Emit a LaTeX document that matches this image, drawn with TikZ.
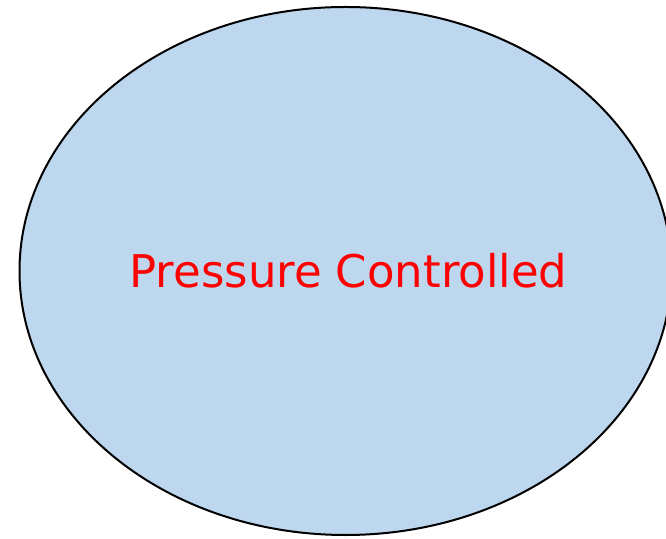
\documentclass[tikz,border=0pt]{standalone}
\usepackage{fontspec}
\newfontfamily\labelfont{DejaVu Sans}
\definecolor{ovalfill}{RGB}{189,215,238}
\definecolor{labelred}{RGB}{255,0,0}
\tikzset{
  oval/.style={draw=black, line width=2pt, fill=ovalfill},
  lbl/.style={text=labelred, font=\labelfont\fontsize{45}{50}\selectfont, inner sep=0pt}
}
\begin{document}
\begin{tikzpicture}[x=1pt,y=1pt]
\useasboundingbox (0,0) rectangle (666,538);
\begin{scope}
\clip (0,0) rectangle (666,538);
\path[oval] (345.5,267) ellipse [x radius=326, y radius=264];
\end{scope}
\node[lbl, anchor=base] (t) at (348.5,250) {Pressure Controlled};
\end{tikzpicture}
\end{document}
